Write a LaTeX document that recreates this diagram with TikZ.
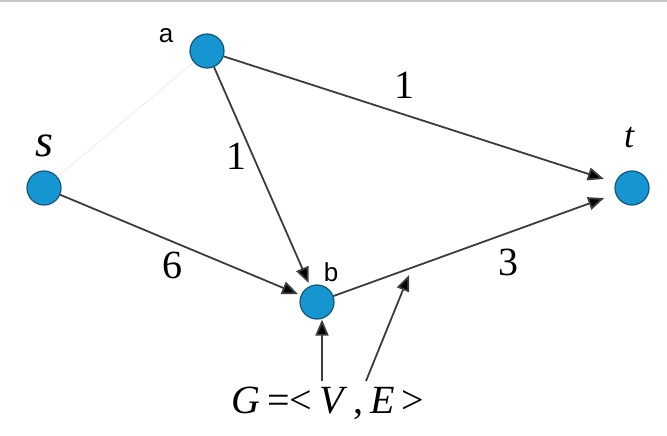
\documentclass[tikz,border=0pt]{standalone}
\usepackage{fontspec}
\setmainfont{Liberation Serif}
\newfontfamily\lblfont{Liberation Sans}
\usetikzlibrary{arrows.meta,calc}
\definecolor{nodefill}{RGB}{22,150,208}
\definecolor{nodeedge}{RGB}{20,85,120}
\definecolor{edgecol}{RGB}{60,60,60}
\tikzset{
  vtx/.style={circle,fill=nodefill,draw=nodeedge,line width=1.2pt,minimum size=34pt,inner sep=0pt},
  edge/.style={draw=edgecol,line width=1.8pt,-{Triangle[length=16pt,width=13pt,fill=black]}},
  wlabel/.style={font=\fontsize{40}{40}\selectfont},
  vlabel/.style={font=\lblfont\fontsize{26}{26}\selectfont},
  ilabel/.style={font=\itshape\fontsize{40}{40}\selectfont},
}
\begin{document}
\begin{tikzpicture}[x=1pt,y=-1pt]
\useasboundingbox (0,0) rectangle (667,436);
\draw[gray!45,line width=2pt] (0,1) -- (667,1);
\node[vtx] (a) at (207,51) {};
\node[vtx] (s) at (44,188) {};
\node[vtx] (b) at (317,302) {};
\node[vtx] (t) at (632,188) {};
\node[vlabel] (la) at (166,36) {a};
\node[vlabel] (lb) at (331,272) {b};
\node[ilabel,font=\itshape\fontsize{46}{46}\selectfont] (ls) at (44,146) {s};
\node[ilabel,font=\itshape\fontsize{36}{36}\selectfont] (lt) at (629,138) {t};
\draw[gray!12,line width=1.2pt] (s) -- (a);
\draw[edge,shorten >=12pt] (a) -- (t);
\draw[edge,shorten >=3pt] (a) -- (b);
\draw[edge,shorten >=3pt] (s) -- (b);
\draw[edge,shorten >=12pt] (b) -- (t);
\node[wlabel] (w1) at (404,85) {1};
\node[wlabel] (w2) at (236,156) {1};
\node[wlabel] (w3) at (172,265) {6};
\node[wlabel] (w4) at (508,262) {3};
\node[font=\fontsize{40}{40}\selectfont] (g) at (328,403) {\textit{G}\,=<\,\textit{V}\,,\,\textit{E}\,>};
\coordinate (g1) at (322,381);
\coordinate (g2) at (366,381);
\coordinate (bt) at (409,275);
\draw[edge] (g1) -- (b.south -| g1);
\draw[edge] (g2) -- (bt);
\end{tikzpicture}
\end{document}
